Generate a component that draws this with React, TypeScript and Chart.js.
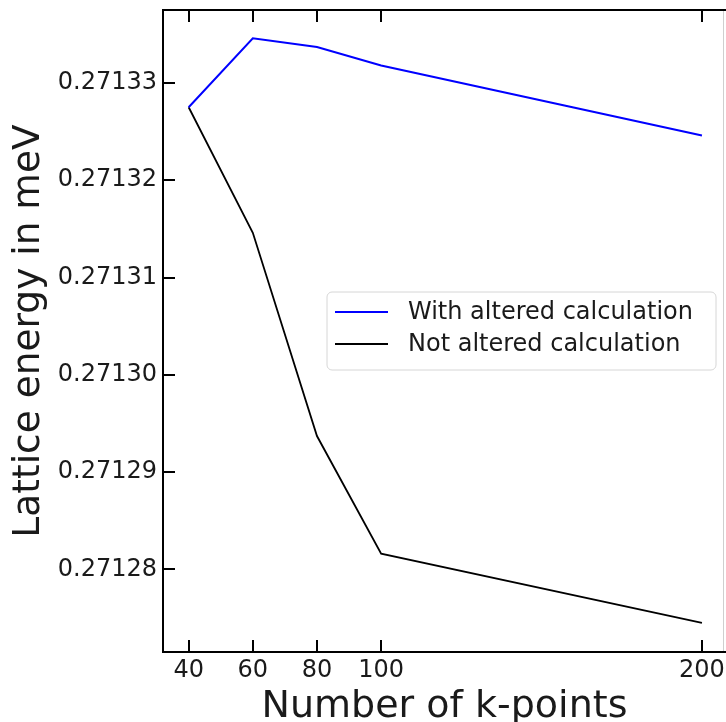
import React, { useEffect, useRef } from "react";
import { Chart, registerables } from "chart.js";

Chart.register(...registerables);

const kPoints = [40, 60, 80, 100, 200];
const withAltered = [0.2713275, 0.2713346, 0.2713337, 0.2713318, 0.2713246];
const notAltered = [0.2713275, 0.2713146, 0.2712937, 0.2712816, 0.2712745];
const xTicks = [40, 60, 80, 100, 200];
const yTicks = [0.27128, 0.27129, 0.2713, 0.27131, 0.27132, 0.27133];
const seriesLabels = ["With altered calculation", "Not altered calculation"];
const seriesColors = ["#0000ff", "#000000"];
const xTitle = "Number of k-points";
const yTitle = "Lattice energy in meV";

const FONT = "'DejaVu Sans', sans-serif";

const framePlugin = {
  id: "frame",
  afterDraw(chart: any) {
    const { ctx, chartArea: a, scales } = chart;
    ctx.save();
    ctx.strokeStyle = "#000";
    ctx.lineWidth = 2;
    ctx.lineCap = "butt";
    ctx.beginPath();
    ctx.moveTo(a.left, a.bottom);
    ctx.lineTo(a.left, a.top);
    ctx.moveTo(a.left - 1, a.top);
    ctx.lineTo(a.right, a.top);
    ctx.moveTo(a.left - 1, a.bottom);
    ctx.lineTo(a.right, a.bottom);
    const L = 12;
    for (const v of xTicks) {
      const px = Math.round(scales.x.getPixelForValue(v));
      ctx.moveTo(px, a.bottom);
      ctx.lineTo(px, a.bottom - L);
      ctx.moveTo(px, a.top);
      ctx.lineTo(px, a.top + L);
    }
    for (const v of yTicks) {
      const py = Math.round(scales.y.getPixelForValue(v));
      ctx.moveTo(a.left, py);
      ctx.lineTo(a.left + L, py);
    }
    ctx.stroke();
    // right edge (cropped spine)
    ctx.strokeStyle = "#cfcfcf";
    ctx.lineWidth = 1;
    ctx.beginPath();
    ctx.moveTo(a.right - 2.5, a.top + 1);
    ctx.lineTo(a.right - 2.5, a.bottom - 1);
    ctx.stroke();

    // legend
    const ds = chart.data.datasets;
    const bx = 327, by = 292, bw = 389, bh = 78, r = 5;
    ctx.beginPath();
    ctx.moveTo(bx + r, by);
    ctx.lineTo(bx + bw - r, by);
    ctx.arcTo(bx + bw, by, bx + bw, by + r, r);
    ctx.lineTo(bx + bw, by + bh - r);
    ctx.arcTo(bx + bw, by + bh, bx + bw - r, by + bh, r);
    ctx.lineTo(bx + r, by + bh);
    ctx.arcTo(bx, by + bh, bx, by + bh - r, r);
    ctx.lineTo(bx, by + r);
    ctx.arcTo(bx, by, bx + r, by, r);
    ctx.closePath();
    ctx.fillStyle = "rgba(255,255,255,0.8)";
    ctx.fill();
    ctx.strokeStyle = "#d6d6d6";
    ctx.lineWidth = 1;
    ctx.stroke();
    ctx.font = `24px ${FONT}`;
    ctx.textBaseline = "middle";
    ctx.textAlign = "left";
    ds.forEach((d: any, i: number) => {
      const y = 312 + i * 32;
      ctx.strokeStyle = d.borderColor;
      ctx.lineWidth = 2;
      ctx.beginPath();
      ctx.moveTo(335, y);
      ctx.lineTo(388, y);
      ctx.stroke();
      ctx.fillStyle = "#1a1a1a";
      ctx.fillText(d.label, 408, y + 1);
    });
    ctx.restore();
  },
};

export default function App() {
  const ref = useRef<HTMLCanvasElement | null>(null);
  useEffect(() => {
    if (!ref.current) return;
    const chart = new Chart(ref.current, {
      type: "line",
      data: {
        datasets: [
          {
            label: seriesLabels[0],
            data: kPoints.map((k, i) => ({ x: k, y: withAltered[i] })),
            borderColor: seriesColors[0],
            borderWidth: 2,
            pointRadius: 0,
            tension: 0,
            fill: false,
          },
          {
            label: seriesLabels[1],
            data: kPoints.map((k, i) => ({ x: k, y: notAltered[i] })),
            borderColor: seriesColors[1],
            borderWidth: 1.8,
            pointRadius: 0,
            tension: 0,
            fill: false,
          },
        ],
      },
      options: {
        responsive: false,
        animation: false,
        events: [],
        layout: { padding: { top: 10, right: 0, bottom: 0, left: 0 } },
        plugins: { legend: { display: false }, tooltip: { enabled: false } },
        scales: {
          x: {
            type: "linear",
            min: 32,
            max: 207.5,
            grid: { display: false, drawTicks: false },
            border: { display: false },
            afterBuildTicks: (s: any) => {
              s.ticks = xTicks.map((v) => ({ value: v }));
            },
            afterFit: (s: any) => {
              s.height = 70;
              s.paddingLeft = 0;
              s.paddingRight = 0;
            },
            ticks: {
              autoSkip: false,
              maxRotation: 0,
              padding: 4,
              color: "#1a1a1a",
              font: { family: FONT, size: 24 },
              callback: (v: any) => String(v),
            },
            title: {
              display: true,
              text: xTitle,
              color: "#1a1a1a",
              font: { family: FONT, size: 38, lineHeight: 0.76 },
              padding: 0,
            },
          },
          y: {
            type: "linear",
            min: 0.2712715,
            max: 0.2713375,
            grid: { display: false, drawTicks: false },
            border: { display: false },
            afterBuildTicks: (s: any) => {
              s.ticks = yTicks.map((v) => ({ value: v }));
            },
            afterFit: (s: any) => {
              s.width = 163;
              s.paddingTop = 0;
              s.paddingBottom = 0;
            },
            ticks: {
              autoSkip: false,
              padding: 6,
              color: "#1a1a1a",
              font: { family: FONT, size: 24 },
              callback: (v: any) => Number(v).toFixed(5),
            },
            title: {
              display: true,
              text: yTitle,
              color: "#1a1a1a",
              font: { family: FONT, size: 37.5 },
              padding: { top: 7, bottom: 0 },
            },
          },
        },
      },
      plugins: [framePlugin],
    } as any);
    return () => chart.destroy();
  }, []);
  return (
    <div style={{ position: "absolute", left: 0, top: 0, width: 726, height: 722, background: "#fff" }}>
      <canvas ref={ref} width={726} height={722} style={{ display: "block" }} />
    </div>
  );
}
